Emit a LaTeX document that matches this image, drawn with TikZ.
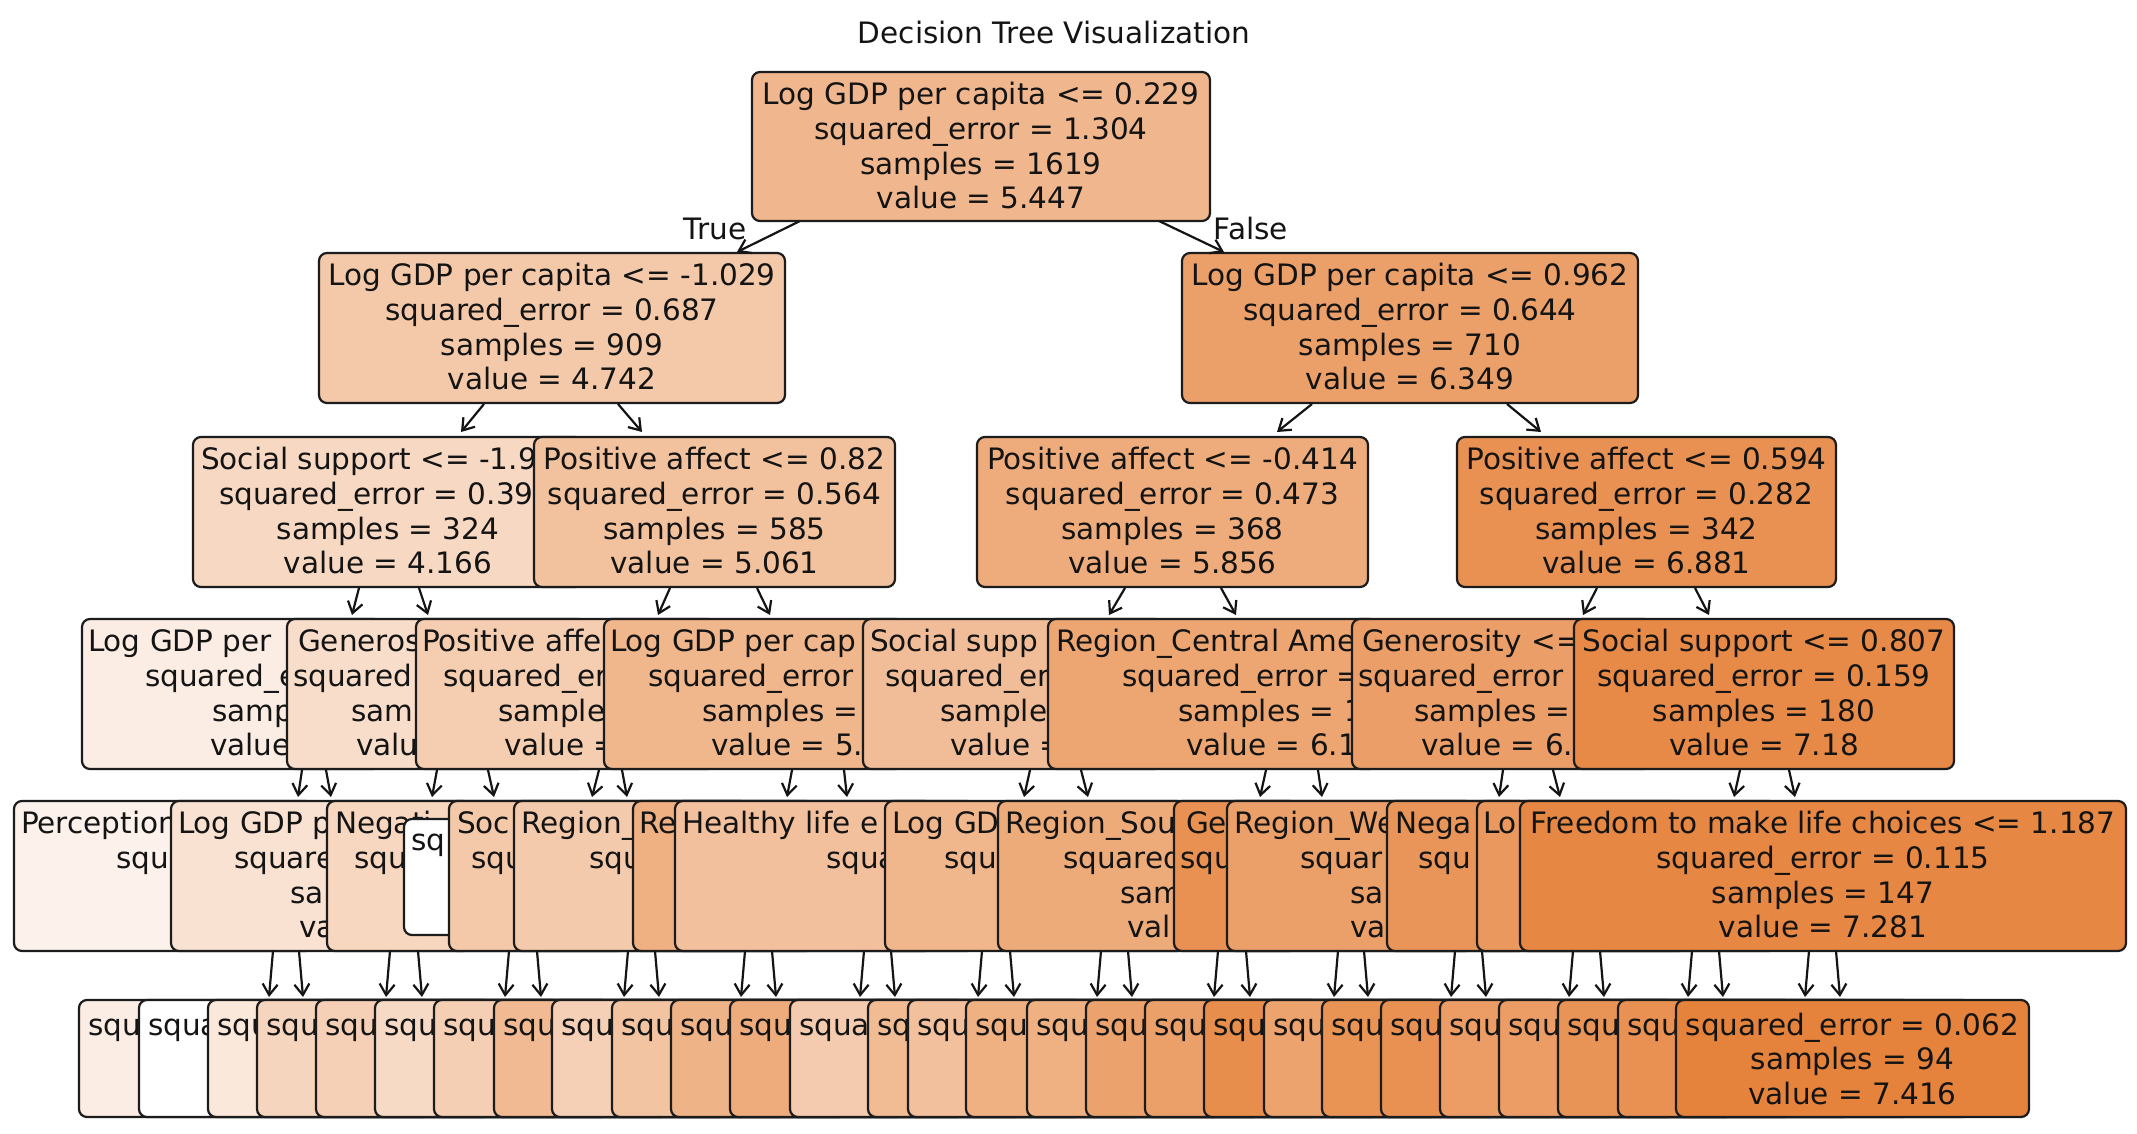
\documentclass[tikz,border=0pt]{standalone}
\usepackage{fontspec}
\setmainfont{DejaVu Sans}
\usetikzlibrary{arrows.meta}
\definecolor{tor}{RGB}{229,129,57}
\definecolor{edgec}{RGB}{28,28,28}
\newcommand\mybox[6]{\node[tbx, fill=tor!#6!white, minimum width=#4pt, minimum height=#5pt, anchor=north west] (#1) at (#2,#3) {};}
\newcommand\tline[4]{\node[txt, anchor=base] (#1) at (#2,#3) {#4};}
\newcommand\tfrag[4]{\node[txt, anchor=base west] (#1) at (#2,#3) {#4};}
\begin{document}
\begin{tikzpicture}[x=1pt,y=-1pt,
  tbx/.style={draw=edgec, line width=2.2pt, rounded corners=8pt, inner sep=0pt, outer sep=0pt},
  txt/.style={inner sep=0pt, outer sep=0pt, font=\fontsize{29.5}{34.7}\selectfont, text=black!92},
  arr/.style={draw=black!92, line width=2.2pt, -{Straight Barb[length=11pt,width=15pt]}}]
\useasboundingbox (0,0) rectangle (2137,1133);
\fill[white] (0,0) rectangle (2137,1133);

% title
\node[txt, anchor=base] (title) at (1054,43) {Decision Tree Visualization};

% ---------- level 0
\mybox{n0}{752}{72}{458}{149}{57}
\tline{r1}{981}{104.7}{Log GDP per capita <= 0.229}
\tline{r2}{981}{139.4}{squared\_error = 1.304}
\tline{r3}{981}{174.1}{samples = 1619}
\tline{r4}{981}{208.8}{value = 5.447}
\node[txt, anchor=base] (tlab) at (715,239) {True};
\node[txt, anchor=base] (flab) at (1251,239) {False};

% ---------- level 1
\mybox{n1a}{319}{253}{466}{150}{43}
\tline{a1}{552}{285.7}{Log GDP per capita <= -1.029}
\tline{a2}{552}{320.4}{squared\_error = 0.687}
\tline{a3}{552}{355.1}{samples = 909}
\tline{a4}{552}{389.8}{value = 4.742}
\mybox{n1b}{1182}{253}{456}{150}{76}
\tline{b1}{1410}{285.7}{Log GDP per capita <= 0.962}
\tline{b2}{1410}{320.4}{squared\_error = 0.644}
\tline{b3}{1410}{355.1}{samples = 710}
\tline{b4}{1410}{389.8}{value = 6.349}

% ---------- level 2
\mybox{n2a}{193}{437}{390}{150}{31}
\tfrag{c1}{201}{469.7}{Social support <= -1.9}
\tfrag{c2}{219}{504.4}{squared\_error = 0.39}
\tline{c3}{388}{539.1}{samples = 324}
\tline{c4}{388}{573.8}{value = 4.166}
\mybox{n2b}{534}{437}{361}{150}{49}
\tline{d1}{714.5}{469.7}{Positive affect <= 0.82}
\tline{d2}{714.5}{504.4}{squared\_error = 0.564}
\tline{d3}{714.5}{539.1}{samples = 585}
\tline{d4}{714.5}{573.8}{value = 5.061}
\mybox{n2c}{977}{437}{391}{150}{66}
\tline{e1}{1172.5}{469.7}{Positive affect <= -0.414}
\tline{e2}{1172.5}{504.4}{squared\_error = 0.473}
\tline{e3}{1172.5}{539.1}{samples = 368}
\tline{e4}{1172.5}{573.8}{value = 5.856}
\mybox{n2d}{1457}{437}{379}{150}{87}
\tline{f1}{1646.5}{469.7}{Positive affect <= 0.594}
\tline{f2}{1646.5}{504.4}{squared\_error = 0.282}
\tline{f3}{1646.5}{539.1}{samples = 342}
\tline{f4}{1646.5}{573.8}{value = 6.881}

% ---------- level 3
\mybox{n3a}{82}{619}{300}{150}{14}
\tfrag{g1}{88}{651.7}{Log GDP per}
\tfrag{g2}{145}{686.4}{squared\_e}
\tfrag{g3}{212}{721.1}{samp}
\tfrag{g4}{210}{755.8}{value}
\mybox{n3b}{287}{619}{300}{150}{27}
\tfrag{h1}{298}{651.7}{Generos}
\tfrag{h2}{293}{686.4}{squared}
\tfrag{h3}{351}{721.1}{sam}
\tfrag{h4}{356}{755.8}{valu}
\mybox{n3c}{416}{619}{300}{150}{40}
\tfrag{i1}{422}{651.7}{Positive affe}
\tfrag{i2}{443}{686.4}{squared\_er}
\tfrag{i3}{498}{721.1}{sample}
\tfrag{i4}{504}{755.8}{value =}
\mybox{n3d}{604}{619}{300}{150}{58}
\tfrag{j1}{610}{651.7}{Log GDP per cap}
\tfrag{j2}{648}{686.4}{squared\_error}
\tfrag{j3}{702}{721.1}{samples =}
\tfrag{j4}{711}{755.8}{value = 5.}
\mybox{n3e}{863}{619}{300}{150}{52}
\tfrag{k1}{870}{651.7}{Social supp}
\tfrag{k2}{885}{686.4}{squared\_er}
\tfrag{k3}{940}{721.1}{sample}
\tfrag{k4}{950}{755.8}{value =}
\mybox{n3f}{1048}{619}{330}{150}{71}
\tfrag{l1}{1056}{651.7}{Region\_Central Ame}
\tfrag{l2}{1122}{686.4}{squared\_error =}
\tfrag{l3}{1178}{721.1}{samples = 1}
\tfrag{l4}{1186}{755.8}{value = 6.1}
\mybox{n3g}{1352}{619}{300}{150}{77}
\tfrag{m1}{1362}{651.7}{Generosity <=}
\tfrag{m2}{1358}{686.4}{squared\_error}
\tfrag{m3}{1414}{721.1}{samples =}
\tfrag{m4}{1421}{755.8}{value = 6.}
\mybox{n3h}{1574}{619}{380}{150}{93}
\tline{o1}{1764}{651.7}{Social support <= 0.807}
\tline{o2}{1764}{686.4}{squared\_error = 0.159}
\tline{o3}{1764}{721.1}{samples = 180}
\tline{o4}{1764}{755.8}{value = 7.18}

% ---------- level 4
\mybox{n4a}{14}{801}{300}{150}{10}
\tfrag{p1}{21}{833.7}{Perception}
\tfrag{p2}{116}{868.4}{squ}
\mybox{n4b}{171}{801}{300}{150}{23}
\tfrag{q1}{178}{833.7}{Log GDP p}
\tfrag{q2}{234}{868.4}{square}
\tfrag{q3}{290}{903.1}{sa}
\tfrag{q4}{299}{937.8}{va}
\mybox{n4c}{327}{801}{300}{150}{32}
\tfrag{s1}{335}{833.7}{Negati}
\tfrag{s2}{354}{868.4}{squ}
\mybox{n4w}{404}{819}{300}{116}{0}
\tfrag{w1}{411}{850}{sq}
\mybox{n4d}{449}{801}{300}{150}{43}
\tfrag{t1}{457}{833.7}{Soc}
\tfrag{t2}{471}{868.4}{squ}
\mybox{n4e}{514}{801}{300}{150}{42}
\tfrag{u1}{521}{833.7}{Region\_}
\tfrag{u2}{589}{868.4}{squ}
\mybox{n4f}{633}{801}{300}{150}{63}
\tfrag{v1}{639}{833.7}{Re}
\mybox{n4g}{675}{801}{300}{150}{50}
\tfrag{x1}{682}{833.7}{Healthy life e}
\tfrag{x2}{826}{868.4}{squa}
\mybox{n4h}{885}{801}{300}{150}{58}
\tfrag{y1}{892}{833.7}{Log GD}
\tfrag{y2}{944}{868.4}{squ}
\mybox{n4i}{998}{801}{300}{150}{67}
\tfrag{z1}{1005}{833.7}{Region\_Sou}
\tfrag{z2}{1063}{868.4}{squared}
\tfrag{z3}{1120}{903.1}{sam}
\tfrag{z4}{1127}{937.8}{val}
\mybox{n4j}{1174}{801}{300}{150}{87}
\tfrag{aa1}{1186}{833.7}{Ge}
\tfrag{aa2}{1180}{868.4}{squ}
\mybox{n4k}{1227}{801}{300}{150}{76}
\tfrag{ab1}{1234}{833.7}{Region\_We}
\tfrag{ab2}{1300}{868.4}{squar}
\tfrag{ab3}{1350}{903.1}{sa}
\tfrag{ab4}{1350}{937.8}{va}
\mybox{n4l}{1387}{801}{300}{150}{84}
\tfrag{ac1}{1395}{833.7}{Nega}
\tfrag{ac2}{1418}{868.4}{squ}
\mybox{n4m}{1477}{801}{300}{150}{82}
\tfrag{ad1}{1483}{833.7}{Lo}
\mybox{n4n}{1520}{801}{606}{150}{95}
\tline{ae1}{1823}{833.7}{Freedom to make life choices <= 1.187}
\tline{ae2}{1823}{868.4}{squared\_error = 0.115}
\tline{ae3}{1823}{903.1}{samples = 147}
\tline{ae4}{1823}{937.8}{value = 7.281}

% ---------- level 5 (leaves)
\foreach \i/\L/\a/\t in {1/79/14/squ, 2/139/0/squa, 3/208/18/squ, 4/257/33/squ, 5/316/37/squ,
  6/375/29/squ, 7/434/38/squ, 8/494/55/squ, 9/552/37/squ, 10/612/47/squ, 11/671/60/squ,
  12/730/66/squ, 13/790/41/squa, 14/868/54/sq, 15/908/50/squ, 16/966/63/squ, 17/1027/63/squ,
  18/1086/74/squ, 19/1145/76/squ, 20/1204/90/squ, 21/1264/73/squ, 22/1322/86/squ,
  23/1381/87/squ, 24/1440/78/squ, 25/1499/78/squ, 26/1558/85/squ, 27/1618/87/squ}{
  \node[tbx, fill=tor!\a!white, minimum width=353pt, minimum height=117pt, anchor=north west] (leaf\i) at (\L,1000) {};
  \node[txt, anchor=base west] (leaf\i t) at (\L+9,1035) {\t};
}
\mybox{leaf28}{1676}{1000}{353}{117}{99}
\tline{lf1}{1852.5}{1035}{squared\_error = 0.062}
\tline{lf2}{1852.5}{1069.7}{samples = 94}
\tline{lf3}{1852.5}{1104.4}{value = 7.416}

% ---------- connectors
\foreach \k/\xa/\ya/\xb/\yb in {1/800/221/737/252, 2/1159/221/1224/252,
  3/484/404/461/432, 4/618/404/642/432, 5/1312/404/1277/432, 6/1507/404/1541/432,
  7/359/588/352/615, 8/419/588/428/615, 9/670/588/658/615, 10/757/588/770/615,
  11/1125/588/1109/615, 12/1221/588/1236/615, 13/1597/588/1583/615, 14/1695/588/1709/615,
  15/302/770/298/797, 16/326/770/331/797, 17/437/770/432/797, 18/488/770/494/797,
  19/599/770/592/797, 20/622/770/627/797, 21/792/770/787/797, 22/844/770/847/797,
  23/1030/770/1024/797, 24/1081/770/1088/797, 25/1266/770/1260/797, 26/1318/770/1322/797,
  27/1503/770/1499/797, 28/1553/770/1560/797, 29/1740/770/1734/797, 30/1789/770/1795/797}{
  \coordinate (s\k) at (\xa,\ya);
  \coordinate (e\k) at (\xb,\yb);
  \draw[arr] (s\k) -- (e\k);
}
\foreach \k/\xa/\xb in {31/273/269, 32/299/303, 33/390/386, 34/418/422, 35/509/505, 36/537/541,
  37/628/624, 38/655/659, 39/745/741, 40/772/776, 41/864/860, 42/891/895, 43/982/978, 44/1010/1014,
  45/1101/1097, 46/1128/1132, 47/1218/1214, 48/1246/1250, 49/1338/1334, 50/1364/1368,
  51/1455/1451, 52/1482/1486, 53/1573/1569, 54/1600/1604, 55/1692/1688, 56/1719/1723,
  57/1809/1805, 58/1836/1840}{
  \coordinate (s\k) at (\xa,951);
  \coordinate (e\k) at (\xb,997);
  \draw[arr] (s\k) -- (e\k);
}
\end{tikzpicture}
\end{document}
